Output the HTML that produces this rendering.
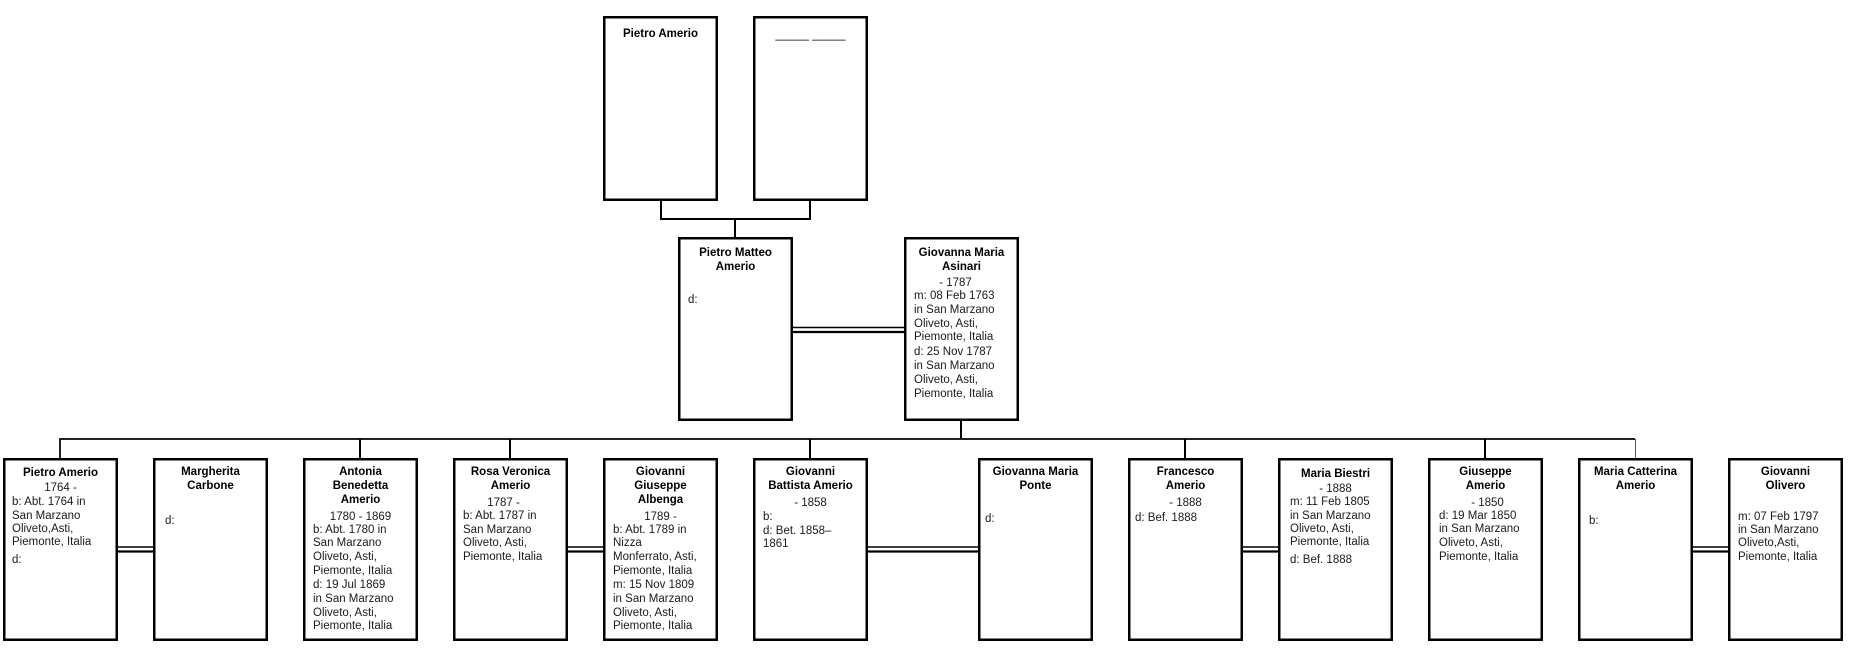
<!DOCTYPE html>
<html><head><meta charset="utf-8">
<style>
html,body{margin:0;padding:0;background:#fff;}
body{width:1851px;height:652px;position:relative;overflow:hidden;font-family:"Liberation Sans",Arial,sans-serif;}
svg{position:absolute;left:0;top:0;}
.t{position:absolute;white-space:nowrap;font-size:11.5px;line-height:14px;color:#1a1a1a;}
.c{width:115px;text-align:center;}
.b{font-weight:bold;color:#000;}
</style></head><body>
<svg width="1851" height="652" viewBox="0 0 1851 652">
<g fill="#fff" stroke="#000" stroke-width="2.5">
<rect x="604.25" y="17.25" width="112.5" height="182.5"/>
<rect x="754.25" y="17.25" width="112.5" height="182.5"/>
<rect x="679.25" y="238.25" width="112.5" height="181.5"/>
<rect x="905.25" y="238.25" width="112.5" height="181.5"/>
<rect x="4.25" y="459.25" width="112.5" height="180.5"/>
<rect x="154.25" y="459.25" width="112.5" height="180.5"/>
<rect x="304.25" y="459.25" width="112.5" height="180.5"/>
<rect x="454.25" y="459.25" width="112.5" height="180.5"/>
<rect x="604.25" y="459.25" width="112.5" height="180.5"/>
<rect x="754.25" y="459.25" width="112.5" height="180.5"/>
<rect x="979.25" y="459.25" width="112.5" height="180.5"/>
<rect x="1129.25" y="459.25" width="112.5" height="180.5"/>
<rect x="1279.25" y="459.25" width="112.5" height="180.5"/>
<rect x="1429.25" y="459.25" width="112.5" height="180.5"/>
<rect x="1579.25" y="459.25" width="112.5" height="180.5"/>
<rect x="1729.25" y="459.25" width="112.5" height="180.5"/>
</g>
<g stroke="#000" stroke-width="2" fill="none">
<path d="M661 201V219H810V201M735 219V237"/>
<path d="M961 421V439"/>
<path d="M60 458V439H1635" stroke="#222"/>
<path d="M360 439V458M510 439V458M810 439V458M1185 439V458M1485 439V458"/>
</g>
<path d="M1635.5 439V458" stroke="#555" stroke-width="1"/>
<g stroke="#000">
<path d="M793 327.5H904" stroke-width="1.5"/>
<path d="M793 332H904" stroke-width="2.2"/>
<path d="M117 547H153M567 547H603M867 547H978M1243 547H1278M1693 547H1728" stroke-width="1.5"/>
<path d="M117 551.5H153M567 551.5H603M867 551.5H978M1243 551.5H1278M1693 551.5H1728" stroke-width="2.2"/>
</g>
</svg>

<!-- top row -->
<div class="t c b" style="left:603px;top:27px">Pietro Amerio</div>
<div class="t c" style="left:753px;top:27px;font-size:12px;color:#000">_____ _____</div>

<!-- middle row -->
<div class="t c b" style="left:678px;top:246px">Pietro Matteo</div>
<div class="t c b" style="left:678px;top:260px">Amerio</div>
<div class="t" style="left:688px;top:293px">d:</div>

<div class="t c b" style="left:904px;top:246px">Giovanna Maria</div>
<div class="t c b" style="left:904px;top:260px">Asinari</div>
<div class="t c" style="left:898px;top:276px">- 1787</div>
<div class="t" style="left:914px;top:289px">m: 08 Feb 1763</div>
<div class="t" style="left:914px;top:303px">in San Marzano</div>
<div class="t" style="left:914px;top:317px">Oliveto, Asti,</div>
<div class="t" style="left:914px;top:330px">Piemonte, Italia</div>
<div class="t" style="left:914px;top:345px">d: 25 Nov 1787</div>
<div class="t" style="left:914px;top:359px">in San Marzano</div>
<div class="t" style="left:914px;top:373px">Oliveto, Asti,</div>
<div class="t" style="left:914px;top:387px">Piemonte, Italia</div>

<!-- bottom row -->
<div class="t c b" style="left:3px;top:466px">Pietro Amerio</div>
<div class="t c" style="left:3px;top:481px">1764 -</div>
<div class="t" style="left:12px;top:495px">b: Abt. 1764 in</div>
<div class="t" style="left:12px;top:509px">San Marzano</div>
<div class="t" style="left:12px;top:522px">Oliveto,Asti,</div>
<div class="t" style="left:12px;top:535px">Piemonte, Italia</div>
<div class="t" style="left:12px;top:553px">d:</div>

<div class="t c b" style="left:153px;top:465px">Margherita</div>
<div class="t c b" style="left:153px;top:479px">Carbone</div>
<div class="t" style="left:165px;top:514px">d:</div>

<div class="t c b" style="left:303px;top:465px">Antonia</div>
<div class="t c b" style="left:303px;top:479px">Benedetta</div>
<div class="t c b" style="left:303px;top:493px">Amerio</div>
<div class="t c" style="left:303px;top:510px">1780 - 1869</div>
<div class="t" style="left:313px;top:523px">b: Abt. 1780 in</div>
<div class="t" style="left:313px;top:536px">San Marzano</div>
<div class="t" style="left:313px;top:550px">Oliveto, Asti,</div>
<div class="t" style="left:313px;top:564px">Piemonte, Italia</div>
<div class="t" style="left:313px;top:578px">d: 19 Jul 1869</div>
<div class="t" style="left:313px;top:592px">in San Marzano</div>
<div class="t" style="left:313px;top:606px">Oliveto, Asti,</div>
<div class="t" style="left:313px;top:619px">Piemonte, Italia</div>

<div class="t c b" style="left:453px;top:465px">Rosa Veronica</div>
<div class="t c b" style="left:453px;top:479px">Amerio</div>
<div class="t c" style="left:446px;top:496px">1787 -</div>
<div class="t" style="left:463px;top:509px">b: Abt. 1787 in</div>
<div class="t" style="left:463px;top:523px">San Marzano</div>
<div class="t" style="left:463px;top:536px">Oliveto, Asti,</div>
<div class="t" style="left:463px;top:550px">Piemonte, Italia</div>

<div class="t c b" style="left:603px;top:465px">Giovanni</div>
<div class="t c b" style="left:603px;top:479px">Giuseppe</div>
<div class="t c b" style="left:603px;top:493px">Albenga</div>
<div class="t c" style="left:603px;top:510px">1789 -</div>
<div class="t" style="left:613px;top:523px">b: Abt. 1789 in</div>
<div class="t" style="left:613px;top:536px">Nizza</div>
<div class="t" style="left:613px;top:550px">Monferrato, Asti,</div>
<div class="t" style="left:613px;top:564px">Piemonte, Italia</div>
<div class="t" style="left:613px;top:578px">m: 15 Nov 1809</div>
<div class="t" style="left:613px;top:592px">in San Marzano</div>
<div class="t" style="left:613px;top:606px">Oliveto, Asti,</div>
<div class="t" style="left:613px;top:619px">Piemonte, Italia</div>

<div class="t c b" style="left:753px;top:465px">Giovanni</div>
<div class="t c b" style="left:753px;top:479px">Battista Amerio</div>
<div class="t c" style="left:753px;top:496px">- 1858</div>
<div class="t" style="left:763px;top:510px">b:</div>
<div class="t" style="left:763px;top:524px">d: Bet. 1858–</div>
<div class="t" style="left:763px;top:537px">1861</div>

<div class="t c b" style="left:978px;top:465px">Giovanna Maria</div>
<div class="t c b" style="left:978px;top:479px">Ponte</div>
<div class="t" style="left:985px;top:512px">d:</div>

<div class="t c b" style="left:1128px;top:465px">Francesco</div>
<div class="t c b" style="left:1128px;top:479px">Amerio</div>
<div class="t c" style="left:1128px;top:496px">- 1888</div>
<div class="t" style="left:1135px;top:511px">d: Bef. 1888</div>

<div class="t c b" style="left:1278px;top:467px">Maria Biestri</div>
<div class="t c" style="left:1278px;top:482px">- 1888</div>
<div class="t" style="left:1290px;top:495px">m: 11 Feb 1805</div>
<div class="t" style="left:1290px;top:509px">in San Marzano</div>
<div class="t" style="left:1290px;top:522px">Oliveto, Asti,</div>
<div class="t" style="left:1290px;top:535px">Piemonte, Italia</div>
<div class="t" style="left:1290px;top:553px">d: Bef. 1888</div>

<div class="t c b" style="left:1428px;top:465px">Giuseppe</div>
<div class="t c b" style="left:1428px;top:479px">Amerio</div>
<div class="t c" style="left:1430px;top:496px">- 1850</div>
<div class="t" style="left:1439px;top:509px">d: 19 Mar 1850</div>
<div class="t" style="left:1439px;top:522px">in San Marzano</div>
<div class="t" style="left:1439px;top:536px">Oliveto, Asti,</div>
<div class="t" style="left:1439px;top:550px">Piemonte, Italia</div>

<div class="t c b" style="left:1578px;top:465px">Maria Catterina</div>
<div class="t c b" style="left:1578px;top:479px">Amerio</div>
<div class="t" style="left:1589px;top:514px">b:</div>

<div class="t c b" style="left:1728px;top:465px">Giovanni</div>
<div class="t c b" style="left:1728px;top:479px">Olivero</div>
<div class="t" style="left:1738px;top:510px">m: 07 Feb 1797</div>
<div class="t" style="left:1738px;top:523px">in San Marzano</div>
<div class="t" style="left:1738px;top:536px">Oliveto,Asti,</div>
<div class="t" style="left:1738px;top:550px">Piemonte, Italia</div>
</body></html>
